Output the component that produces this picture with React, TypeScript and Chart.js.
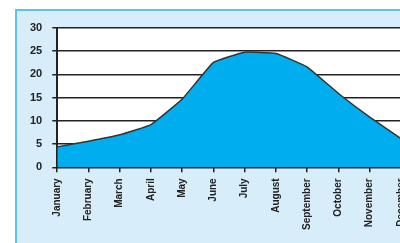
import React, { useEffect, useRef } from "react";
import { Chart, registerables } from "chart.js";

Chart.register(...registerables);

const months = [
  "January", "February", "March", "April", "May", "June",
  "July", "August", "September", "October", "November", "December",
];
const temperatures = [4.4, 5.6, 7.0, 9.2, 14.7, 22.6, 24.8, 24.5, 21.6, 15.9, 10.8, 6.2];
const yMin = 0;
const yMax = 30;
const yStep = 5;

const bgPlugin = {
  id: "bgPlugin",
  beforeDraw(chart: any) {
    const { ctx, width, height, chartArea } = chart;
    ctx.save();
    ctx.fillStyle = "#d7edfa";
    ctx.fillRect(0, 0, width, height);
    ctx.strokeStyle = "#5cc3ee";
    ctx.lineWidth = 2;
    ctx.beginPath();
    ctx.moveTo(1, height);
    ctx.lineTo(1, 1);
    ctx.lineTo(width, 1);
    ctx.stroke();
    ctx.fillStyle = "#ffffff";
    ctx.fillRect(chartArea.left, chartArea.top, chartArea.right - chartArea.left, chartArea.bottom - chartArea.top);
    ctx.restore();
  },
};

export default function App() {
  const ref = useRef<HTMLCanvasElement | null>(null);
  useEffect(() => {
    if (!ref.current) return;
    const chart = new Chart(ref.current, {
      type: "line",
      data: {
        labels: months,
        datasets: [
          {
            data: temperatures,
            fill: "origin",
            backgroundColor: "#00aeef",
            borderColor: "#333333",
            borderWidth: 1.5,
            pointRadius: 0,
            tension: 0.1,
          },
        ],
      },
      options: {
        animation: false,
        responsive: false,
        maintainAspectRatio: false,
        layout: { padding: { left: 5, top: 19, right: 0, bottom: 7 } },
        plugins: { legend: { display: false }, tooltip: { enabled: false } },
        scales: {
          x: {
            offset: false,
            grid: { display: true, drawOnChartArea: false, drawTicks: true, tickLength: 5, color: "#222", lineWidth: 1.5 },
            border: { display: true, color: "#222", width: 2 },
            ticks: {
              autoSkip: false,
              maxRotation: 90,
              minRotation: 90,
              padding: 6,
              color: "#222",
              font: { family: "'Liberation Sans', Arial, sans-serif", size: 10, weight: "bold" },
            },
          },
          y: {
            min: yMin,
            max: yMax,
            grid: { color: "#222", lineWidth: 1.5, tickLength: 5 },
            border: { display: true, color: "#222", width: 2 },
            ticks: {
              stepSize: yStep,
              padding: 10,
              color: "#222",
              font: { family: "'Liberation Sans', Arial, sans-serif", size: 11, weight: "bold" },
            },
          },
        },
      },
      plugins: [bgPlugin],
    });
    return () => chart.destroy();
  }, []);
  return (
    <div style={{ position: "fixed", left: 0, top: 0, width: 400, height: 243, overflow: "hidden", background: "#fff" }}>
      <div style={{ position: "absolute", left: 15, top: 9 }}>
        <canvas ref={ref} width={404} height={234} style={{ display: "block" }} />
      </div>
    </div>
  );
}
